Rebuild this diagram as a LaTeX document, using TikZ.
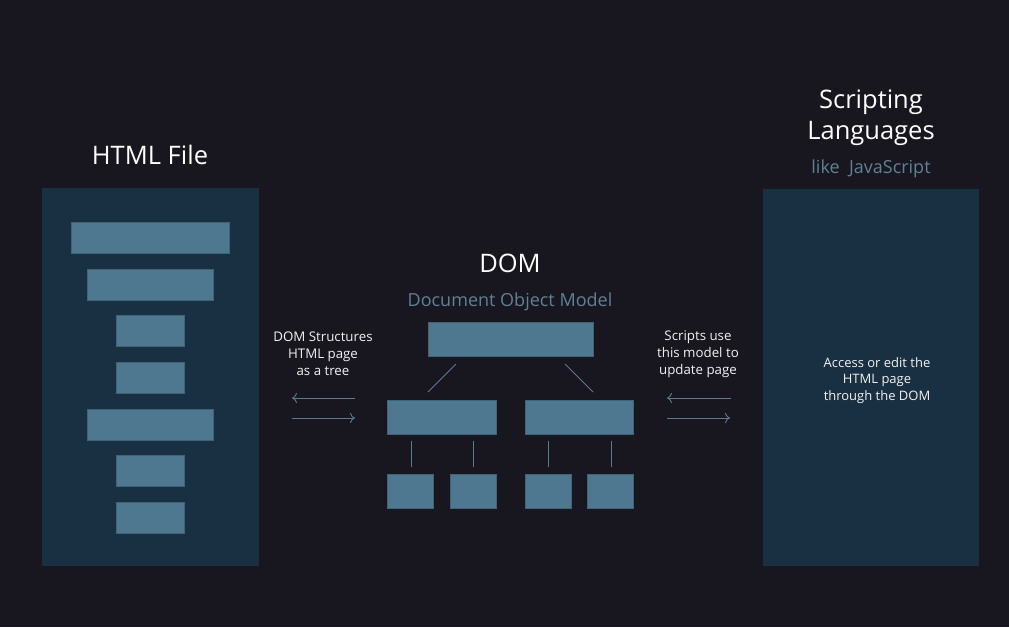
\documentclass[tikz,border=0pt]{standalone}
\usepackage{fontspec}
\setmainfont{Open Sans}
\usetikzlibrary{arrows.meta}
\definecolor{bgc}{HTML}{18171F}
\definecolor{panelc}{HTML}{183042}
\definecolor{barc}{HTML}{4E7890}
\definecolor{barb}{HTML}{3F6477}
\definecolor{subc}{HTML}{5F8196}
\definecolor{linec}{HTML}{5A7A8E}
\definecolor{txtc}{HTML}{F2F2F2}
\begin{document}
\begin{tikzpicture}[x=1pt,y=-1pt,
  panel/.style={fill=panelc,draw=none},
  bar/.style={fill=barc,draw=barb,line width=0.6pt},
  title/.style={text=white,font=\fontsize{25.5}{31}\selectfont,align=center},
  sub/.style={text=subc,font=\fontsize{18}{21}\selectfont},
  small/.style={text=txtc,font=\fontsize{13.3}{16.8}\selectfont,align=center},
  conn/.style={draw=linec,line width=0.9pt},
  arr/.style={draw=linec,line width=0.9pt,-{To[length=5pt,width=10pt]}}]
\useasboundingbox (0,0) rectangle (1009,627);
\fill[bgc] (0,0) rectangle (1009,627);
% panels
\fill[panel] (42,188) rectangle (259,566);
\fill[panel] (763,189) rectangle (979,566);
% left bars
\draw[bar] (71,222) rectangle (229,253);
\draw[bar] (87,269) rectangle (213,300);
\draw[bar] (116,315) rectangle (184,346);
\draw[bar] (116,362) rectangle (184,393);
\draw[bar] (87,409) rectangle (213,440);
\draw[bar] (116,455) rectangle (184,486);
\draw[bar] (116,502) rectangle (184,533);
% titles
\node[title] (html) at (150,155) {HTML File};
\node[title] (scr) at (871,118) {Scripting\\Languages};
\node[sub] (js) at (871,168.5) {like\ \ JavaScript};
\node[title] (dom) at (510,263) {DOM};
\node[sub] (dommodel) at (510,301.5) {Document Object Model};
% tree
\node[bar,minimum width=165pt,minimum height=34pt,inner sep=0pt] (root) at (510.5,339) {};
\node[bar,minimum width=109pt,minimum height=34pt,inner sep=0pt] (m1) at (441.5,417) {};
\node[bar,minimum width=108pt,minimum height=34pt,inner sep=0pt] (m2) at (579,417) {};
\node[bar,minimum width=46pt,minimum height=34pt,inner sep=0pt] (b1) at (410,491) {};
\node[bar,minimum width=46pt,minimum height=34pt,inner sep=0pt] (b2) at (473,491) {};
\node[bar,minimum width=46pt,minimum height=34pt,inner sep=0pt] (b3) at (548,491) {};
\node[bar,minimum width=46pt,minimum height=34pt,inner sep=0pt] (b4) at (610,491) {};
\coordinate (r1) at (456,364);
\coordinate (r2) at (565,364);
\coordinate (c1) at (428,392);
\coordinate (c2) at (593,392);
\draw[conn] (r1) -- (c1);
\draw[conn] (r2) -- (c2);
\draw[conn] (411,441) -- (411,467);
\draw[conn] (473,441) -- (473,467);
\draw[conn] (548,441) -- (548,467);
\draw[conn] (611,441) -- (611,467);
% side texts
\node[small] (ltxt) at (323,354) {DOM Structures\\HTML page\\as a tree};
\node[small] (rtxt) at (698,354) {Scripts use\\this model to\\update page};
\node[text=txtc,font=\fontsize{13}{16.5}\selectfont,align=center] (ptxt) at (877,380.5) {Access or edit the\\HTML page\\through the DOM};
% arrows
\coordinate (la1) at (355,398); \coordinate (la2) at (292,398);
\coordinate (la3) at (292,418); \coordinate (la4) at (355,418);
\coordinate (ra1) at (731,398); \coordinate (ra2) at (667,398);
\coordinate (ra3) at (667,418); \coordinate (ra4) at (730,418);
\draw[arr] (la1) -- (la2);
\draw[arr] (la3) -- (la4);
\draw[arr] (ra1) -- (ra2);
\draw[arr] (ra3) -- (ra4);
\end{tikzpicture}
\end{document}
